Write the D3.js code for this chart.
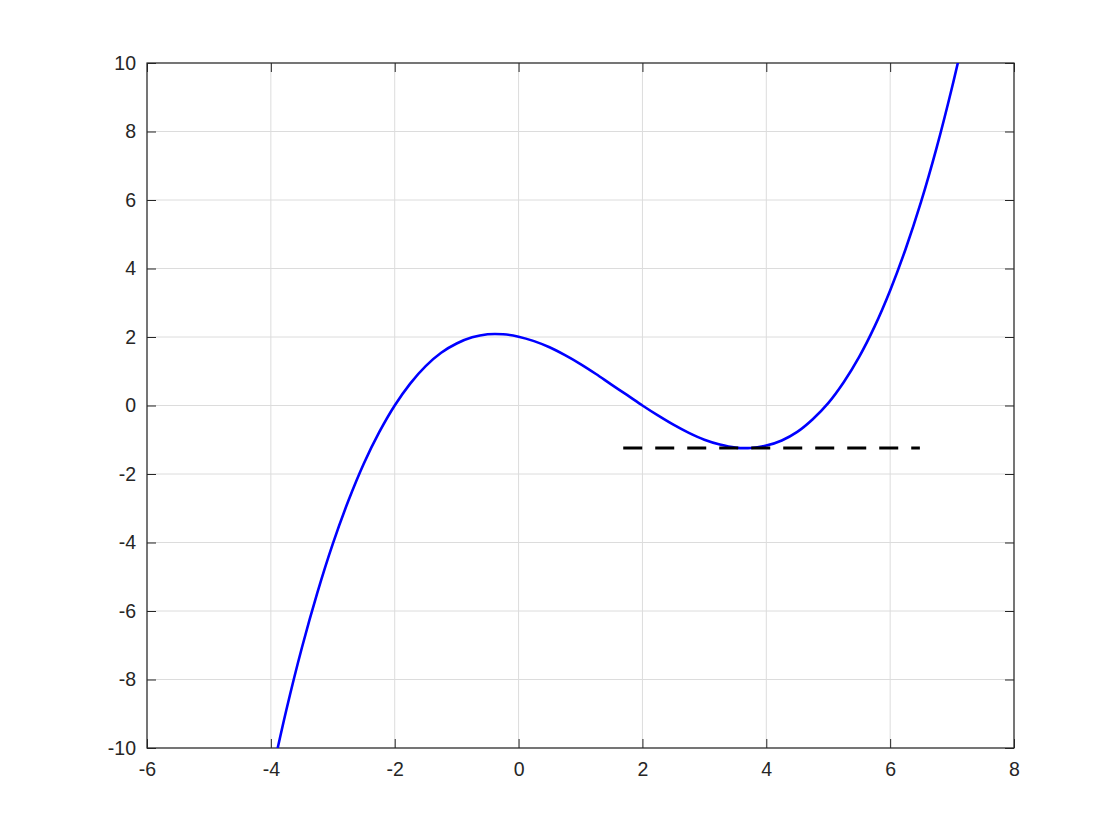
<!DOCTYPE html>
<html>
<head>
<meta charset="utf-8">
<script src="https://cdn.jsdelivr.net/npm/d3@7"></script>
<style>
  body { margin: 0; background: #fff; }
  svg { display: block; font-family: "Liberation Sans", Arial, Helvetica, sans-serif; }
</style>
</head>
<body>
<div id="chart"></div>
<script>
// values
const curveX = [-4, -3.75, -3.5, -3.25, -3, -2.75, -2.5, -2.25, -2, -1.75, -1.5, -1.25, -1, -0.75, -0.5, -0.25,
  0, 0.25, 0.5, 0.75, 1, 1.25, 1.5, 1.75, 2, 2.25, 2.5, 2.75, 3, 3.25, 3.5, 3.75,
  4, 4.25, 4.5, 4.75, 5, 5.25, 5.5, 5.75, 6, 6.25, 6.5, 6.75, 7, 7.25];
const curveY = [-10.91, -8.89, -7.08, -5.47, -4.04, -2.79, -1.70, -0.78, 0.00, 0.64, 1.15, 1.54, 1.81, 1.99, 2.08, 2.08,
  2.01, 1.88, 1.70, 1.47, 1.21, 0.92, 0.61, 0.31, 0.00, -0.29, -0.56, -0.80, -1.00, -1.14, -1.23, -1.24,
  -1.17, -1.02, -0.77, -0.40, 0.07, 0.68, 1.42, 2.31, 3.36, 4.57, 5.95, 7.52, 9.29, 11.25];
const tangentX = [1.69, 6.48];
const tangentY = [-1.24, -1.24];
const xTicks = [-6, -4, -2, 0, 2, 4, 6, 8];
const yTicks = [-10, -8, -6, -4, -2, 0, 2, 4, 6, 8, 10];

const width = 1120, height = 840;
const margin = { top: 63, right: 106, bottom: 92, left: 147 };
const innerW = width - margin.left - margin.right;
const innerH = height - margin.top - margin.bottom;

const svg = d3.select('#chart').append('svg')
  .attr('width', width)
  .attr('height', height);

const x = d3.scaleLinear().domain([-6, 8]).range([0, innerW]);
const y = d3.scaleLinear().domain([-10, 10]).range([innerH, 0]);

const g = svg.append('g').attr('transform', `translate(${margin.left},${margin.top})`);

g.append('clipPath').attr('id', 'plot-clip')
  .append('rect').attr('width', innerW).attr('height', innerH);

// grid
g.append('g').selectAll('line').data(xTicks).enter().append('line')
  .attr('x1', d => x(d)).attr('x2', d => x(d))
  .attr('y1', 0).attr('y2', innerH)
  .attr('stroke', '#dcdcdc').attr('stroke-width', 1);
g.append('g').selectAll('line').data(yTicks).enter().append('line')
  .attr('y1', d => y(d)).attr('y2', d => y(d))
  .attr('x1', 0).attr('x2', innerW)
  .attr('stroke', '#dcdcdc').attr('stroke-width', 1);

const fmt = d => String(d); // plain hyphen minus like the original

// axes, ticks pointing inward on all four sides
const axisStyle = sel => {
  sel.select('.domain').remove();
  sel.selectAll('line').attr('stroke', '#262626');
  sel.selectAll('text').attr('fill', '#262626').style('font-size', '19.5px');
};

g.append('g').attr('transform', `translate(0,${innerH})`)
  .call(d3.axisBottom(x).tickValues(xTicks).tickFormat(fmt).tickSizeInner(-9).tickSizeOuter(0).tickPadding(14))
  .call(axisStyle);
g.append('g')
  .call(d3.axisTop(x).tickValues(xTicks).tickFormat('').tickSizeInner(-9).tickSizeOuter(0))
  .call(axisStyle);
g.append('g')
  .call(d3.axisLeft(y).tickValues(yTicks).tickFormat(fmt).tickSizeInner(-9).tickSizeOuter(0).tickPadding(11))
  .call(axisStyle);
g.append('g').attr('transform', `translate(${innerW},0)`)
  .call(d3.axisRight(y).tickValues(yTicks).tickFormat('').tickSizeInner(-9).tickSizeOuter(0))
  .call(axisStyle);

g.append('rect')
  .attr('width', innerW).attr('height', innerH)
  .attr('fill', 'none').attr('stroke', '#262626').attr('stroke-width', 1.2);

// curve
const pts = curveX.map((v, i) => [v, curveY[i]]);
const line = d3.line().x(d => x(d[0])).y(d => y(d[1])).curve(d3.curveCatmullRom.alpha(0.5));

g.append('path')
  .datum(pts)
  .attr('clip-path', 'url(#plot-clip)')
  .attr('d', line)
  .attr('fill', 'none')
  .attr('stroke', '#0000ff')
  .attr('stroke-width', 2.6);

// horizontal tangent at the local minimum
const tpts = tangentX.map((v, i) => [v, tangentY[i]]);
g.append('path')
  .datum(tpts)
  .attr('d', d3.line().x(d => x(d[0])).y(d => y(d[1])))
  .attr('fill', 'none')
  .attr('stroke', '#000')
  .attr('stroke-width', 3)
  .attr('stroke-dasharray', '19,13');
</script>
</body>
</html>
